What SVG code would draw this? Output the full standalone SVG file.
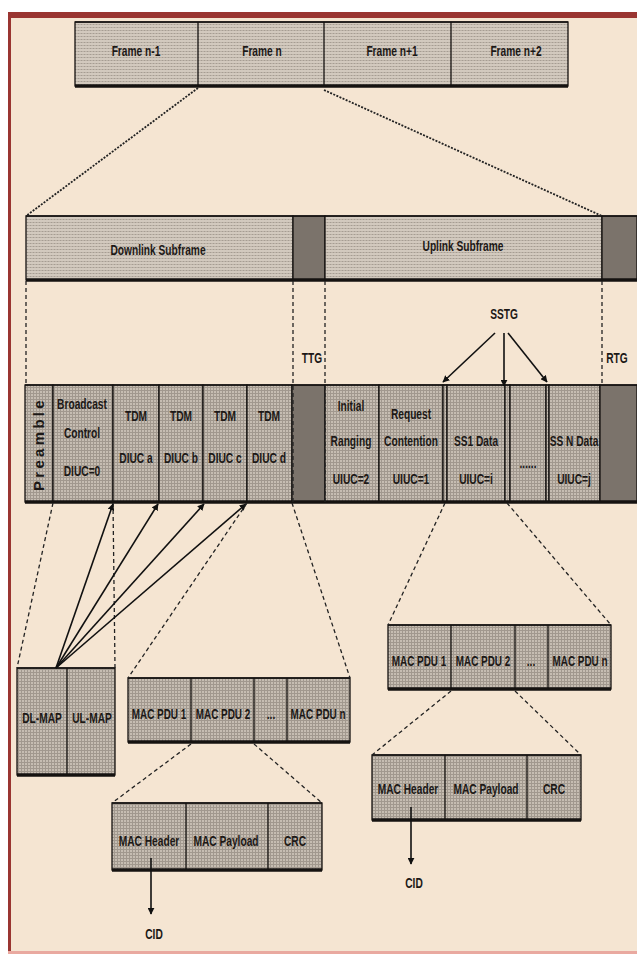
<svg xmlns="http://www.w3.org/2000/svg" width="637" height="954" viewBox="0 0 637 954">
<defs>
<pattern id="texL" width="3" height="3" patternUnits="userSpaceOnUse"><rect width="3" height="3" fill="#d2c9be"/><rect width="3" height="1" fill="#bcb3a8"/><rect width="1" height="1" fill="#a59c92"/></pattern>
<pattern id="texD" width="3" height="3" patternUnits="userSpaceOnUse"><rect width="3" height="3" fill="#c6bdb2"/><rect width="1" height="3" fill="#a1988e"/><rect width="3" height="1" fill="#a1988e"/></pattern>
<marker id="ah" viewBox="0 0 10 10" refX="9" refY="5" markerWidth="7" markerHeight="7" orient="auto-start-reverse" markerUnits="userSpaceOnUse"><path d="M0,0 L10,5 L0,10 z" fill="#111"/></marker>
</defs>
<style>
text{font-family:"Liberation Sans",Arial,sans-serif;font-weight:bold;font-size:15px;fill:#1c1816;text-anchor:middle}
.cell{fill:url(#texD);stroke:#151210;stroke-width:1.3}
.lcell{fill:url(#texL);stroke:#151210;stroke-width:1.3}
.gap{fill:#7b736b;stroke:#151210;stroke-width:1.3}
.div{stroke:#151210;stroke-width:1.3}
.base{stroke:#151210;stroke-width:3.5}
.dot{fill:none;stroke:#222;stroke-width:1.8;stroke-dasharray:2 1.4}
.dash{fill:none;stroke:#222;stroke-width:1.3;stroke-dasharray:4 3}
.arr{fill:none;stroke:#111;stroke-width:1.6;marker-end:url(#ah)}
</style>
<rect width="637" height="954" fill="#ffffff"/>
<rect x="8" y="12" width="629" height="942" fill="#f5e5d2"/>
<rect x="8" y="12" width="629" height="6" fill="#9a3531"/>
<rect x="8" y="12" width="3" height="942" fill="#9a3531"/>
<rect x="8" y="951" width="629" height="3" fill="#e9a9a0"/>

<g id="frames">
<rect class="lcell" x="75" y="22" width="493" height="64"/>
<line class="div" x1="198" y1="22" x2="198" y2="86"/>
<line class="div" x1="324" y1="22" x2="324" y2="86"/>
<line class="div" x1="451" y1="22" x2="451" y2="86"/>
<line class="div" x1="75" y1="22" x2="568" y2="22" stroke-width="2"/>
<line class="base" x1="75" y1="86" x2="568" y2="86"/>
<text transform="translate(136,56) scale(.68,1)">Frame n-1</text>
<text transform="translate(262,56) scale(.68,1)">Frame n</text>
<text transform="translate(392,56) scale(.68,1)">Frame n+1</text>
<text transform="translate(516,56) scale(.68,1)">Frame n+2</text>
</g>

<g id="subframes">
<rect class="lcell" x="26" y="216" width="267" height="64"/>
<rect class="gap" x="293" y="216" width="32" height="64"/>
<rect class="lcell" x="325" y="216" width="277" height="64"/>
<rect class="gap" x="602" y="216" width="35" height="64"/>
<line class="base" x1="26" y1="280" x2="637" y2="280"/>
<line class="div" x1="26" y1="216" x2="637" y2="216" stroke-width="2"/>
<text transform="translate(158,255) scale(.68,1)">Downlink Subframe</text>
<text transform="translate(463,251) scale(.68,1)">Uplink Subframe</text>
</g>

<g id="gaplabels">
<text transform="translate(312,363) scale(.68,1)">TTG</text>
<text transform="translate(617,363) scale(.68,1)">RTG</text>
<text transform="translate(504,319) scale(.68,1)">SSTG</text>
</g>

<g id="slots">
<rect class="cell" x="25" y="385" width="28" height="117"/>
<rect class="cell" x="53" y="385" width="60" height="117"/>
<rect class="cell" x="113" y="385" width="46" height="117"/>
<rect class="cell" x="159" y="385" width="44" height="117"/>
<rect class="cell" x="203" y="385" width="44" height="117"/>
<rect class="cell" x="247" y="385" width="45" height="117"/>
<rect class="gap" x="292" y="385" width="33" height="117"/>
<rect class="cell" x="325" y="385" width="54" height="117"/>
<rect class="cell" x="379" y="385" width="64" height="117"/>
<rect class="cell" x="443" y="385" width="4" height="117"/>
<rect class="cell" x="447" y="385" width="58" height="117"/>
<rect class="cell" x="505" y="385" width="5" height="117"/>
<rect class="cell" x="510" y="385" width="36" height="117"/>
<rect class="cell" x="546" y="385" width="3" height="117"/>
<rect class="cell" x="549" y="385" width="51" height="117"/>
<rect class="gap" x="600" y="385" width="37" height="117"/>
<line class="div" x1="25" y1="385" x2="637" y2="385" stroke-width="2.2"/>
<line class="base" x1="25" y1="502" x2="637" y2="502"/>
<text transform="translate(44,444) rotate(-90)" font-size="15" letter-spacing="3.3">Preamble</text>
<text transform="translate(82,409) scale(.68,1)">Broadcast</text>
<text transform="translate(82,438) scale(.68,1)">Control</text>
<text transform="translate(82,476) scale(.68,1)">DIUC=0</text>
<text transform="translate(136,421) scale(.68,1)">TDM</text>
<text transform="translate(136,463) scale(.68,1)">DIUC a</text>
<text transform="translate(181,421) scale(.68,1)">TDM</text>
<text transform="translate(181,463) scale(.68,1)">DIUC b</text>
<text transform="translate(225,421) scale(.68,1)">TDM</text>
<text transform="translate(225,463) scale(.68,1)">DIUC c</text>
<text transform="translate(269,421) scale(.68,1)">TDM</text>
<text transform="translate(269,463) scale(.68,1)">DIUC d</text>
<text transform="translate(351,411) scale(.68,1)">Initial</text>
<text transform="translate(351,446) scale(.68,1)">Ranging</text>
<text transform="translate(351,484) scale(.68,1)">UIUC=2</text>
<text transform="translate(411,419) scale(.68,1)">Request</text>
<text transform="translate(411,446) scale(.68,1)">Contention</text>
<text transform="translate(411,484) scale(.68,1)">UIUC=1</text>
<text transform="translate(476,446) scale(.68,1)">SS1 Data</text>
<text transform="translate(476,484) scale(.68,1)">UIUC=i</text>
<text transform="translate(528,468) scale(.68,1)">......</text>
<text transform="translate(574,446) scale(.68,1)">SS N Data</text>
<text transform="translate(574,484) scale(.68,1)">UIUC=j</text>
</g>

<g id="maps">
<rect class="cell" x="17" y="668" width="98" height="107"/>
<line class="div" x1="67" y1="668" x2="67" y2="775"/>
<line class="base" x1="17" y1="775" x2="115" y2="775"/>
<line class="div" x1="17" y1="668" x2="115" y2="668" stroke-width="2.2"/>
<text transform="translate(42,723) scale(.68,1)">DL-MAP</text>
<text transform="translate(92,723) scale(.68,1)">UL-MAP</text>
</g>

<g id="dl-pdus">
<rect class="cell" x="128" y="678" width="222" height="64"/>
<line class="div" x1="191" y1="678" x2="191" y2="742"/>
<line class="div" x1="254" y1="678" x2="254" y2="742"/>
<line class="div" x1="287" y1="678" x2="287" y2="742"/>
<line class="div" x1="128" y1="678" x2="350" y2="678" stroke-width="2.2"/>
<line class="base" x1="128" y1="742" x2="350" y2="742"/>
<text transform="translate(159,719) scale(.66,1)">MAC PDU 1</text>
<text transform="translate(223,719) scale(.66,1)">MAC PDU 2</text>
<text transform="translate(271,719) scale(.68,1)">...</text>
<text transform="translate(318,719) scale(.66,1)">MAC PDU n</text>
</g>

<g id="dl-mac">
<rect class="cell" x="112" y="803" width="210" height="67"/>
<line class="div" x1="186" y1="803" x2="186" y2="870"/>
<line class="div" x1="268" y1="803" x2="268" y2="870"/>
<line class="div" x1="112" y1="803" x2="322" y2="803" stroke-width="2.2"/>
<line class="base" x1="112" y1="870" x2="322" y2="870"/>
<text transform="translate(149,846) scale(.68,1)">MAC Header</text>
<text transform="translate(226,846) scale(.68,1)">MAC Payload</text>
<text transform="translate(295,846) scale(.68,1)">CRC</text>
<text transform="translate(154,939) scale(.68,1)">CID</text>
</g>

<g id="ul-pdus">
<rect class="cell" x="388" y="625" width="223" height="64"/>
<line class="div" x1="451" y1="625" x2="451" y2="689"/>
<line class="div" x1="515" y1="625" x2="515" y2="689"/>
<line class="div" x1="548" y1="625" x2="548" y2="689"/>
<line class="div" x1="388" y1="625" x2="611" y2="625" stroke-width="2.2"/>
<line class="base" x1="388" y1="689" x2="611" y2="689"/>
<text transform="translate(419,666) scale(.66,1)">MAC PDU 1</text>
<text transform="translate(483,666) scale(.66,1)">MAC PDU 2</text>
<text transform="translate(531,666) scale(.68,1)">...</text>
<text transform="translate(580,666) scale(.66,1)">MAC PDU n</text>
</g>

<g id="ul-mac">
<rect class="cell" x="372" y="755" width="209" height="65"/>
<line class="div" x1="445" y1="755" x2="445" y2="820"/>
<line class="div" x1="527" y1="755" x2="527" y2="820"/>
<line class="div" x1="372" y1="755" x2="581" y2="755" stroke-width="2.2"/>
<line class="base" x1="372" y1="820" x2="581" y2="820"/>
<text transform="translate(408,794) scale(.68,1)">MAC Header</text>
<text transform="translate(486,794) scale(.68,1)">MAC Payload</text>
<text transform="translate(554,794) scale(.68,1)">CRC</text>
<text transform="translate(414,888) scale(.68,1)">CID</text>
</g>

<g id="connectors">
<line class="dot" x1="198" y1="88" x2="26" y2="216"/>
<line class="dot" x1="324" y1="90" x2="602" y2="216"/>
<line class="dash" x1="26" y1="281" x2="26" y2="385"/>
<line class="dash" x1="293" y1="281" x2="293" y2="502"/>
<line class="dash" x1="325" y1="281" x2="325" y2="502"/>
<line class="dash" x1="602" y1="281" x2="602" y2="385"/>
<line class="arr" x1="495" y1="333" x2="443" y2="382"/>
<line class="arr" x1="504" y1="333" x2="504" y2="386"/>
<line class="arr" x1="508" y1="333" x2="547" y2="382"/>
<line class="dash" x1="53" y1="503" x2="17" y2="668"/>
<line class="dash" x1="113" y1="503" x2="115" y2="668"/>
<line class="arr" x1="56" y1="668" x2="113" y2="504"/>
<line class="arr" x1="56" y1="668" x2="158" y2="504"/>
<line class="arr" x1="56" y1="668" x2="204" y2="504"/>
<line class="arr" x1="56" y1="668" x2="246" y2="504"/>
<line class="dash" x1="247" y1="503" x2="128" y2="678"/>
<line class="dash" x1="292" y1="503" x2="350" y2="678"/>
<line class="dash" x1="445" y1="503" x2="388" y2="625"/>
<line class="dash" x1="507" y1="503" x2="611" y2="625"/>
<line class="dash" x1="191" y1="744" x2="112" y2="803"/>
<line class="dash" x1="254" y1="744" x2="322" y2="803"/>
<line class="dash" x1="451" y1="691" x2="372" y2="755"/>
<line class="dash" x1="515" y1="691" x2="581" y2="755"/>
<line class="arr" x1="151" y1="858" x2="151" y2="914"/>
<line class="arr" x1="411" y1="807" x2="411" y2="864"/>
</g>
</svg>
